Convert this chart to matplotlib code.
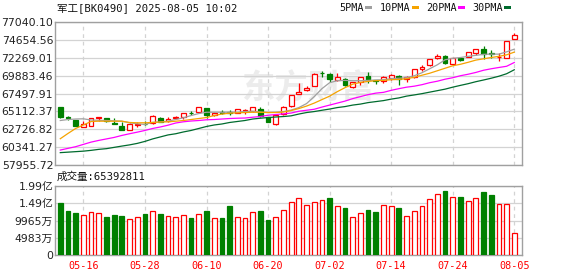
import matplotlib
matplotlib.use("Agg")
import matplotlib.pyplot as plt
from matplotlib.patches import Rectangle
import numpy as np

# trading days shown (MM-DD)
dates = ["05-13", "05-14", "05-15", "05-16", "05-19", "05-20", "05-21", "05-22", "05-23", "05-26",
         "05-27", "05-28", "05-29", "05-30", "06-03", "06-04", "06-05", "06-06", "06-09", "06-10",
         "06-11", "06-12", "06-13", "06-16", "06-17", "06-18", "06-19", "06-20", "06-23", "06-24",
         "06-25", "06-26", "06-27", "06-30", "07-01", "07-02", "07-03", "07-04", "07-07", "07-08",
         "07-09", "07-10", "07-11", "07-14", "07-15", "07-16", "07-17", "07-18", "07-21", "07-22",
         "07-23", "07-24", "07-25", "07-28", "07-29", "07-30", "07-31", "08-01", "08-04", "08-05"]

open_ = [65721, 64372, 63949, 63076, 63155, 64266, 64266, 63578, 63182, 62653,
         63314, 63473, 63512, 64306, 63843, 64213, 64372, 64967, 65007, 65588,
         64702, 65033, 65059, 64927, 65165, 65192, 65456, 64332, 63446, 64768,
         65893, 67479, 67916, 68511, 70257, 70124, 69331, 69463, 68365, 69000,
         69767, 69265, 69106, 69529, 69767, 69423, 69661, 70746, 71248, 72280,
         72505, 71407, 72174, 72412, 72862, 73430, 72835, 72306, 72200, 74753]
high = [65760, 64570, 63975, 63816, 64306, 64438, 64306, 64240, 63711, 63512,
        63711, 63843, 64636, 64372, 64438, 64570, 64967, 65139, 65721, 65628,
        65099, 65271, 65271, 65430, 65430, 65760, 65694, 64372, 64702, 65826,
        67347, 68868, 68537, 70190, 70481, 70190, 70190, 69529, 69000, 69728,
        70296, 69331, 69860, 70032, 69926, 69794, 70785, 71314, 72148, 72703,
        72571, 72240, 72280, 73034, 73430, 73867, 73298, 72862, 74528, 75586]
low = [64266, 64041, 63115, 62983, 63115, 63777, 63645, 63380, 62626, 62626,
       63049, 63248, 63446, 63645, 63711, 64173, 64173, 64663, 64967, 64240,
       64570, 64795, 64702, 64901, 64835, 65099, 64438, 63645, 63287, 64636,
       65760, 67413, 67770, 68471, 69688, 69000, 69199, 68537, 68233, 68670,
       68934, 68736, 68934, 69331, 68670, 69066, 69556, 70521, 71182, 72148,
       71381, 71354, 71751, 72372, 72637, 72148, 72200, 71751, 72174, 74687]
close = [64398, 64306, 63155, 63473, 64240, 64398, 63777, 63446, 62653, 63473,
         63406, 63406, 64570, 63711, 64134, 64398, 64861, 64901, 65668, 64702,
         64927, 64967, 64967, 65390, 65364, 65721, 64530, 63711, 64636, 65721,
         67281, 67744, 68167, 70124, 70164, 69371, 69635, 68670, 68961, 69701,
         69331, 69199, 69688, 69899, 69371, 69688, 70759, 70984, 72081, 72544,
         71579, 72200, 72015, 72994, 73391, 72729, 72769, 72412, 74488, 75308]

ma5 = [63909, 64041, 64107, 64134, 63975, 63935, 63909, 63869, 63816, 63605,
       63473, 63380, 63671, 63711, 63816, 64041, 64266, 64570, 64835, 65007,
       65007, 65007, 65007, 65033, 65099, 65139, 65033, 64967, 65007, 65099,
       65298, 65628, 66157, 67083, 68141, 68934, 69199, 69238, 69199, 69199,
       69238, 69291, 69331, 69463, 69529, 69595, 69860, 70257, 70785, 71314,
       71976, 72174, 72280, 72438, 72571, 72703, 72729, 72729, 73034, 73391]
ma10 = [61489, 62190, 62851, 63314, 63777, 63816, 63816, 63816, 63816, 63645,
        63605, 63605, 63645, 63711, 63737, 63816, 63909, 64041, 64173, 64306,
        64570, 64768, 64874, 64927, 64967, 65007, 65007, 64967, 64967, 65033,
        65231, 65496, 65826, 66223, 66686, 67149, 67744, 68273, 68736, 68974,
        69106, 69199, 69238, 69331, 69371, 69463, 69661, 69926, 70190, 70521,
        70852, 71182, 71381, 71645, 71936, 72108, 72280, 72438, 72637, 72994]
ma20 = [59981, 60206, 60431, 60735, 61039, 61264, 61462, 61661, 61925, 62150,
        62362, 62587, 62851, 63049, 63287, 63578, 63737, 63843, 63909, 64002,
        64041, 64107, 64173, 64213, 64240, 64345, 64438, 64610, 64702, 64795,
        64901, 65139, 65271, 65403, 65694, 65959, 66223, 66488, 66818, 67083,
        67347, 67546, 67651, 67916, 68141, 68339, 68471, 68670, 68934, 69132,
        69397, 69595, 69860, 70058, 70296, 70587, 70785, 70957, 71116, 71619]
ma30 = [59638, 59704, 59770, 59836, 59942, 60074, 60167, 60339, 60510, 60669,
        60867, 61132, 61462, 61727, 61992, 62150, 62388, 62587, 62851, 63115,
        63314, 63446, 63645, 63777, 63909, 64107, 64213, 64306, 64372, 64438,
        64530, 64768, 64967, 65099, 65271, 65430, 65628, 65760, 65959, 66091,
        66289, 66421, 66554, 66752, 66911, 67149, 67308, 67479, 67678, 67876,
        68075, 68339, 68577, 68802, 69066, 69291, 69529, 69794, 70124, 70653]

# volume in 万 shares, colour of each volume bar (R = up, G = down)
volume = [15140, 12840, 12260, 11590, 12450, 12170, 11020, 11590, 11300, 10440,
          11020, 11880, 12740, 11880, 11300, 11020, 11590, 10730, 11880, 12840,
          10730, 10730, 14180, 11020, 10730, 12450, 12840, 10150, 11020, 13030,
          15330, 16380, 14370, 15330, 15900, 16480, 14080, 13600, 10920, 12070,
          13030, 12450, 14370, 14080, 13600, 11210, 12740, 14080, 16090, 17630,
          18490, 16670, 16770, 15620, 16380, 18200, 17340, 14660, 14660, 6539.2811]
vol_color = "GGGRRRGGGRRGRGRRRGRGRGGRRRGGRRRRRRRGRGRRGGRRGRRRRRGRGRRGGRRR"

price_ticks = [57955.72, 60341.27, 62726.82, 65112.37, 67497.91, 69883.46, 72269.01, 74654.56, 77040.10]
vol_ticks = [0, 4983, 9965, 14948, 19930]
vol_labels = ["0", "4983万", "9965万", "1.49亿", "1.99亿"]
xtick_labels = ["05-16", "05-28", "06-10", "06-20", "07-02", "07-14", "07-24", "08-05"]

title = "军工[BK0490] 2025-08-05 10:02"
vol_title = "成交量:65392811"
ma_names = ["5PMA", "10PMA", "20PMA", "30PMA"]

RED = "#ff0000"
GREEN = "#008000"
MA_COLORS = ["#a0a0a0", "#f5a300", "#ff00ff", "#006b2e"]
GRID = "#d3d3d3"
SPINE = "#a0a0a0"
MONO = ["DejaVu Sans Mono", "Noto Sans CJK SC"]
SANS = ["DejaVu Sans", "Noto Sans CJK SC"]

W, H = 578, 276
fig = plt.figure(figsize=(W / 100, H / 100), dpi=100)

def axes_px(left, top, right, bottom):
    return fig.add_axes([left / W, 1 - bottom / H, (right - left) / W, (bottom - top) / H])

ax = axes_px(55.3, 21.7, 522.3, 165.3)
axv = axes_px(55.3, 186, 522.3, 255.3)

x = np.arange(len(dates))
o = np.array(open_, float)
c = np.array(close, float)
up = c >= o
tick_pos = [dates.index(d) for d in xtick_labels]

# watermark
ax.text(0.54, 0.53, "东方财富", transform=ax.transAxes, fontsize=24, color="#ececec",
        family="Noto Sans CJK SC", fontweight="bold", ha="center", va="center", zorder=0)

# candles
body_w = 0.62
for i in x:
    col = RED if up[i] else GREEN
    ax.vlines(i, low[i], high[i], color=col, lw=0.9, zorder=2)
    bottom = min(o[i], c[i])
    hgt = max(abs(c[i] - o[i]), 1.0)
    ax.bar(i, hgt, bottom=bottom, width=body_w,
           facecolor="white" if up[i] else GREEN, edgecolor=col, lw=0.9, zorder=3)

for vals, col in zip([ma5, ma10, ma20, ma30], MA_COLORS):
    ax.plot(x, vals, color=col, lw=0.9, zorder=4)

ax.set_ylim(price_ticks[0], price_ticks[-1])
ax.set_yticks(price_ticks)
ax.set_yticklabels(["%.2f" % t for t in price_ticks], family=SANS, fontsize=7.8)

# volume
for i in x:
    if vol_color[i] == "R":
        axv.bar(i, volume[i], width=body_w, facecolor="white", edgecolor=RED, lw=0.9, zorder=3)
    else:
        axv.bar(i, volume[i], width=body_w, facecolor=GREEN, edgecolor=GREEN, lw=0.9, zorder=3)
axv.set_ylim(0, vol_ticks[-1])
axv.set_yticks(vol_ticks)
axv.set_yticklabels(vol_labels, family=SANS, fontsize=7.8)

for a in (ax, axv):
    a.set_xlim(-0.65, 60.04)
    a.set_xticks(tick_pos)
    a.grid(axis="y", color=GRID, lw=0.9, ls="-", zorder=1)
    for p in tick_pos:
        a.axvline(p, color=GRID, lw=0.9, ls=(0, (3, 3)), zorder=1)
    a.tick_params(length=0, pad=1.5, colors="#222222")
    for s in a.spines.values():
        s.set_color(SPINE)
        s.set_linewidth(1.0)
    a.set_axisbelow(True)

ax.set_xticklabels([])
axv.set_xticklabels(xtick_labels, family=MONO, fontsize=7.3, color=RED)
axv.tick_params(axis="x", pad=4, colors=RED)

# header texts
fig.text(57 / W, 1 - 8 / H, title, family=MONO, fontsize=7.6, va="center", ha="left", color="#111111")
fig.text(57 / W, 1 - 177 / H, vol_title, family=MONO, fontsize=7.6, va="center", ha="left", color="#111111")

# legend: label followed by a short colour bar
leg_x = [339, 380, 426, 472]
for lx, name, col in zip(leg_x, ma_names, MA_COLORS):
    t = fig.text(lx / W, 1 - 8 / H, name, family=MONO, fontsize=7.3, va="center", ha="left", color="#111111")
    bx = lx + 6.1 * len(name) + 1.5
    fig.add_artist(Rectangle((bx / W, 1 - 9 / H), 7 / W, 3 / H, transform=fig.transFigure,
                             facecolor=col, edgecolor="none"))

fig.savefig("out.png", dpi=100)
